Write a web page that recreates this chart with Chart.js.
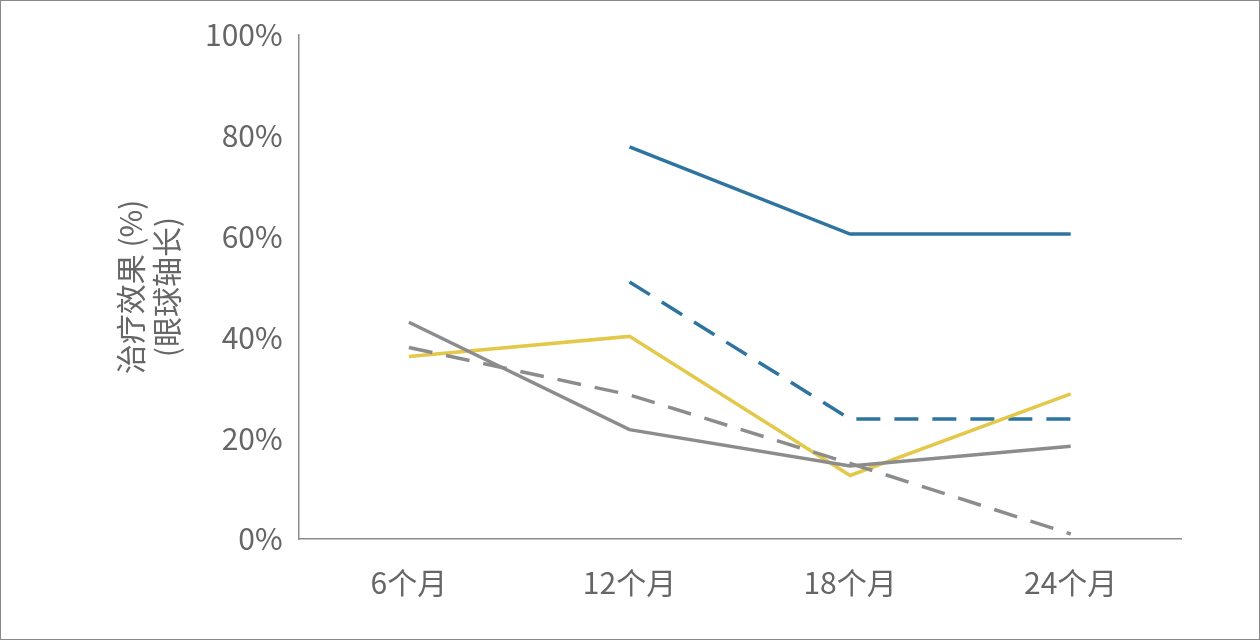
<!DOCTYPE html>
<html><head><meta charset="utf-8">
<script src="https://cdn.jsdelivr.net/npm/chart.js@4/dist/chart.umd.min.js"></script>
<style>
html,body{margin:0;padding:0;background:#fff;}
#wrap{position:absolute;left:0;top:0;width:1258px;height:638px;border:1px solid #8a8a8a;}
</style></head>
<body><div id="wrap"><canvas id="c" width="1258" height="638"></canvas></div>
<script>
const categories = ['6个月', '12个月', '18个月', '24个月'];
const blueSolid = [null, 77.8, 60.5, 60.5];
const blueDashed = [null, 51, 23.8, 23.8];
const graySolid = [43, 21.7, 14.5, 18.4];
const grayDashed = [38, 28.6, 15, 1];
const yellow = [36.2, 40.2, 12.6, 28.8];

function ds(data, color, dash) {
    return { data, borderColor: color, borderWidth: 3.5, borderDash: dash || [],
        pointRadius: 0, tension: 0, fill: false, spanGaps: false };
}
const font = { family: "'Source Han Sans SC','Noto Sans CJK SC','Noto Sans',sans-serif", size: 30 };
new Chart(document.getElementById('c'), {
    type: 'line',
    data: {
        labels: categories,
        datasets: [
            ds(graySolid, '#8c8c8c'),
            ds(grayDashed, '#8c8c8c', [24, 14]),
            ds(yellow, '#e3c84a'),
            ds(blueDashed, '#2e74a0', [24, 14]),
            ds(blueSolid, '#2e74a0')
        ]
    },
    options: {
        responsive: false,
        animation: false,
        layout: { padding: { left: 108, right: 78, top: 29, bottom: 12 } },
        plugins: { legend: { display: false }, tooltip: { enabled: false } },
        scales: {
            x: {
                offset: true,
                grid: { display: false, drawTicks: false },
                border: { color: '#8c8c8c', width: 1.5 },
                ticks: { color: '#666', font, padding: 26 }
            },
            y: {
                min: 0, max: 100,
                grid: { display: false, drawTicks: false },
                border: { color: '#8c8c8c', width: 1.5 },
                ticks: { stepSize: 20, color: '#666', font, padding: 16,
                    callback: v => v + '%' },
                title: { display: true, text: ['治疗效果 (%)', '(眼球轴长)'], color: '#666',
                    font: { family: font.family, size: 30 }, padding: { bottom: 4 } }
            }
        }
    }
});
</script></body></html>
